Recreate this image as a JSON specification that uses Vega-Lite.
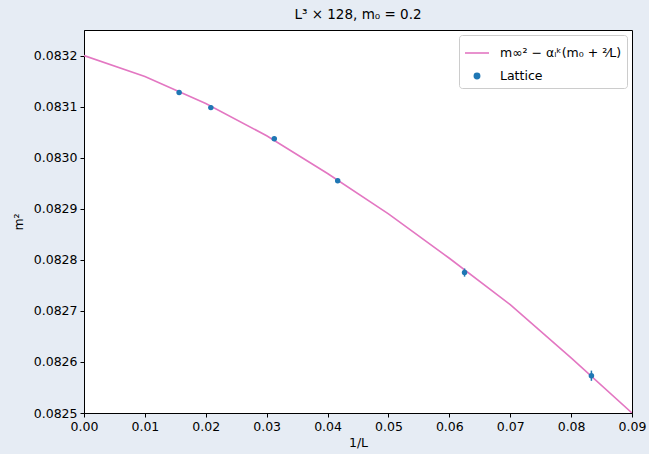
{
  "$schema": "https://vega.github.io/schema/vega-lite/v6.json",
  "width": 548,
  "height": 383,
  "autosize": {"type": "none"},
  "padding": {"left": 84, "top": 30, "right": 17, "bottom": 41},
  "background": "#e6ecf4",
  "title": {"text": "L³ × 128, m₀ = 0.2", "fontSize": 13.5, "fontWeight": "normal", "font": "DejaVu Sans", "color": "#000", "offset": 9, "anchor": "middle"},
  "config": {
    "font": "DejaVu Sans",
    "view": {"fill": "white", "stroke": "black", "strokeWidth": 1},
    "axis": {"grid": false, "domainColor": "black", "tickColor": "black", "tickSize": 4, "labelFontSize": 12.5, "labelColor": "#000", "titleFontSize": 12.5, "titleFontWeight": "normal", "titleColor": "#000", "labelPadding": 3, "labelFlush": false}
  },
  "datasets": {
    "curve": [
      {"x": 0.00, "y": 0.08320, "series": "m∞² − αₗᵏ(m₀ + ²⁄L)"},
      {"x": 0.01, "y": 0.083159, "series": "m∞² − αₗᵏ(m₀ + ²⁄L)"},
      {"x": 0.02, "y": 0.083106, "series": "m∞² − αₗᵏ(m₀ + ²⁄L)"},
      {"x": 0.03, "y": 0.083043, "series": "m∞² − αₗᵏ(m₀ + ²⁄L)"},
      {"x": 0.04, "y": 0.082969, "series": "m∞² − αₗᵏ(m₀ + ²⁄L)"},
      {"x": 0.05, "y": 0.082890, "series": "m∞² − αₗᵏ(m₀ + ²⁄L)"},
      {"x": 0.06, "y": 0.082803, "series": "m∞² − αₗᵏ(m₀ + ²⁄L)"},
      {"x": 0.07, "y": 0.082712, "series": "m∞² − αₗᵏ(m₀ + ²⁄L)"},
      {"x": 0.08, "y": 0.082608, "series": "m∞² − αₗᵏ(m₀ + ²⁄L)"},
      {"x": 0.09, "y": 0.08250, "series": "m∞² − αₗᵏ(m₀ + ²⁄L)"}
    ],
    "lattice": [
      {"x": 0.015625, "y": 0.0831275, "lo": 0.0831235, "hi": 0.0831315, "series": "Lattice"},
      {"x": 0.0208333, "y": 0.083098, "lo": 0.083094, "hi": 0.083102, "series": "Lattice"},
      {"x": 0.03125, "y": 0.083037, "lo": 0.083033, "hi": 0.083041, "series": "Lattice"},
      {"x": 0.0416667, "y": 0.082955, "lo": 0.082951, "hi": 0.082959, "series": "Lattice"},
      {"x": 0.0625, "y": 0.082775, "lo": 0.082767, "hi": 0.082783, "series": "Lattice"},
      {"x": 0.0833333, "y": 0.082573, "lo": 0.082563, "hi": 0.082583, "series": "Lattice"}
    ]
  },
  "layer": [
    {
      "data": {"name": "curve"},
      "mark": {"type": "line", "strokeWidth": 1.6, "clip": true},
      "encoding": {
        "x": {"field": "x", "type": "quantitative", "title": "1/L", "scale": {"domain": [0, 0.09], "nice": false, "zero": false}, "axis": {"values": [0, 0.01, 0.02, 0.03, 0.04, 0.05, 0.06, 0.07, 0.08, 0.09], "format": ".2f", "titlePadding": 4}},
        "y": {"field": "y", "type": "quantitative", "title": "m²", "scale": {"domain": [0.0825, 0.08325], "nice": false, "zero": false}, "axis": {"values": [0.0825, 0.0826, 0.0827, 0.0828, 0.0829, 0.083, 0.0831, 0.0832], "format": ".4f", "titlePadding": 8}},
        "color": {"field": "series", "type": "nominal", "scale": {"domain": ["m∞² − αₗᵏ(m₀ + ²⁄L)", "Lattice"], "range": ["#e377c2", "#1f77b4"]},
          "legend": {"title": null, "orient": "top-right", "offset": 5, "fillColor": "white", "strokeColor": "#cccccc", "cornerRadius": 3, "padding": 5, "labelFontSize": 12.5, "labelColor": "#000", "rowPadding": 3, "symbolStrokeWidth": 1.6, "labelOffset": 10,
            "encode": {"symbols": {"update": {
              "shape": {"signal": "datum.value === 'Lattice' ? 'circle' : 'stroke'"},
              "size": {"signal": "datum.value === 'Lattice' ? 28 : 576"},
              "stroke": {"signal": "datum.value === 'Lattice' ? '#1f77b4' : '#e377c2'"},
              "fill": {"signal": "datum.value === 'Lattice' ? '#1f77b4' : 'transparent'"}
            }}}}}
      }
    },
    {
      "data": {"name": "lattice"},
      "mark": {"type": "rule", "strokeWidth": 1.5, "color": "#1f77b4"},
      "encoding": {
        "x": {"field": "x", "type": "quantitative"},
        "y": {"field": "lo", "type": "quantitative"},
        "y2": {"field": "hi"}
      }
    },
    {
      "data": {"name": "lattice"},
      "mark": {"type": "point", "filled": true, "opacity": 1, "size": 30, "shape": "circle"},
      "encoding": {
        "x": {"field": "x", "type": "quantitative"},
        "y": {"field": "y", "type": "quantitative"},
        "color": {"field": "series", "type": "nominal"}
      }
    }
  ]
}
